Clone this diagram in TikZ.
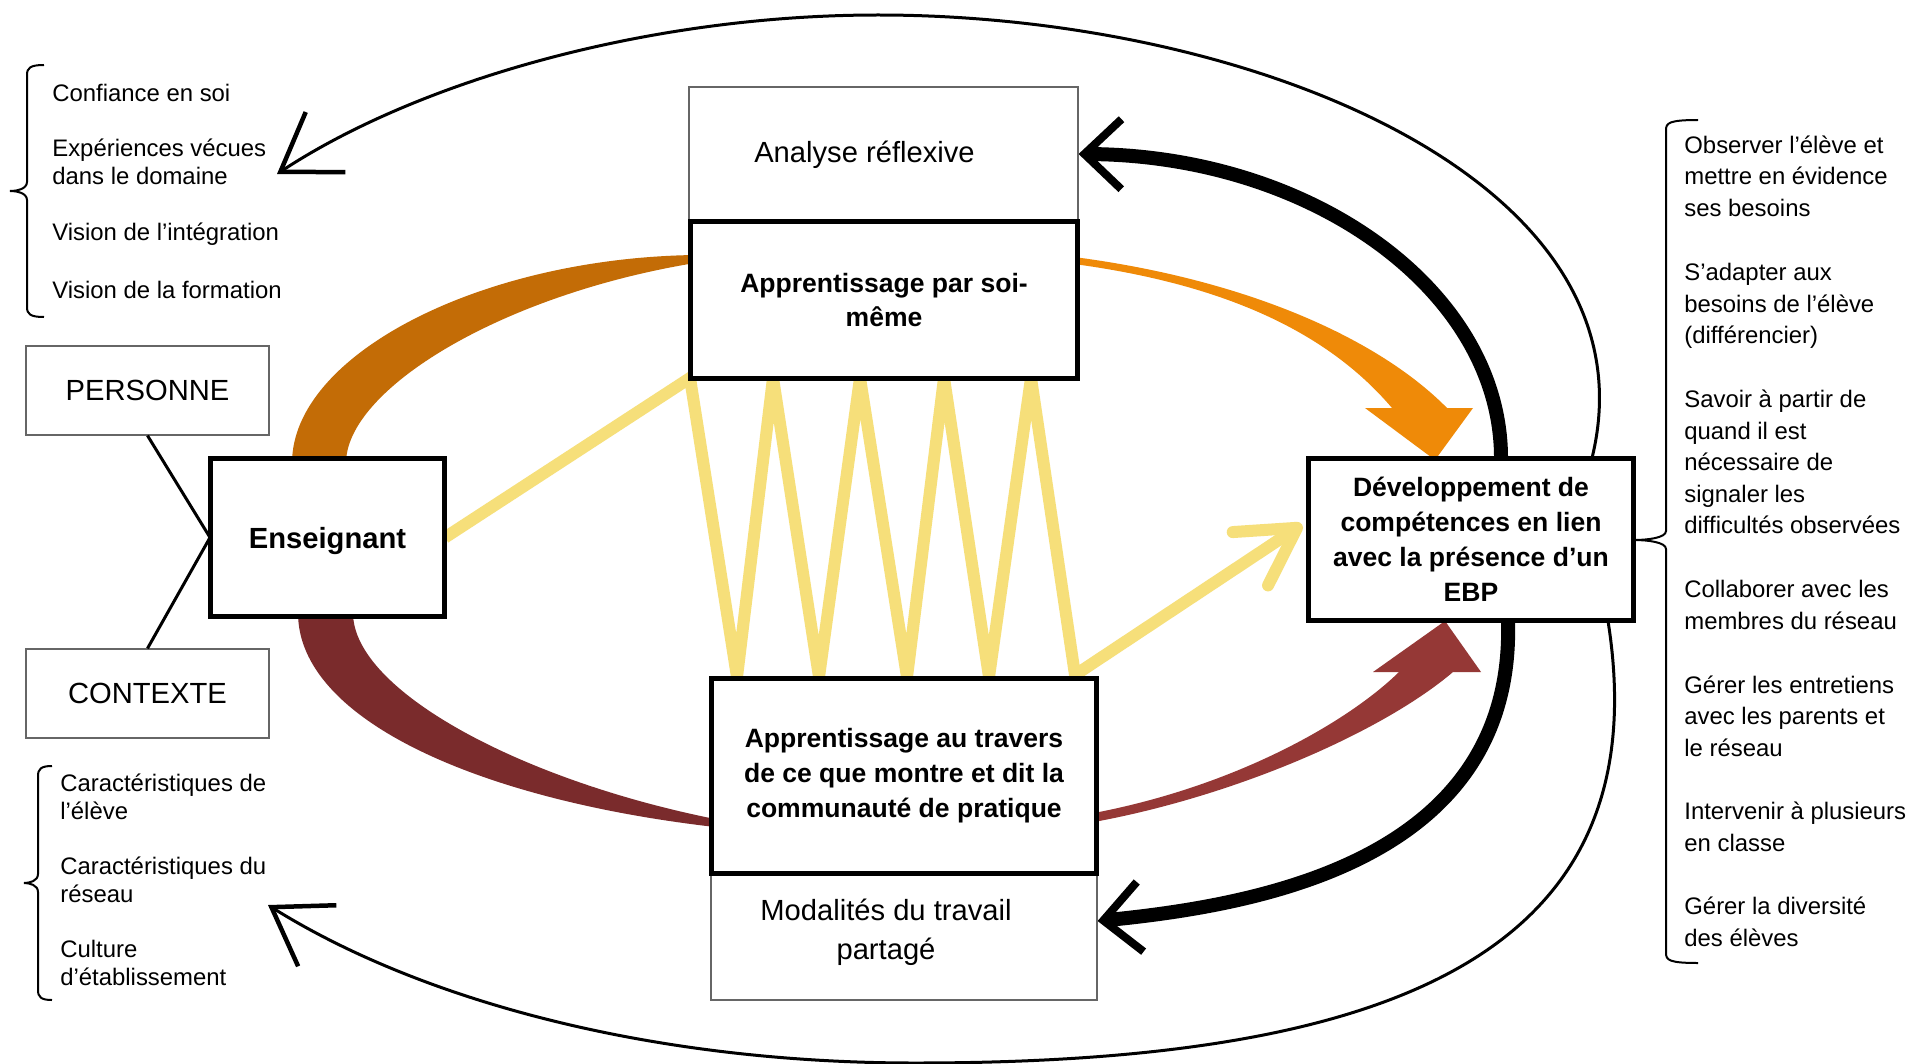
\documentclass[tikz,border=0pt]{standalone}
\usepackage{fontspec}
\setmainfont{Liberation Sans}
\usetikzlibrary{positioning, arrows.meta, calc, backgrounds}

\definecolor{jaune}{RGB}{246,223,122}
\definecolor{brun}{RGB}{195,108,6}
\definecolor{orangevif}{RGB}{239,138,8}
\definecolor{bordeaux}{RGB}{122,43,44}
\definecolor{brique}{RGB}{149,56,54}

% accolade: pointe x, demi-largeur, haut, milieu, bas
\newcommand{\accolade}[5]{%
\draw[accol] ({#1+2*#2},#3) .. controls ({#1+#2+3},#3) and ({#1+#2},{#3+3}) .. ({#1+#2},{#3+10})
  -- ({#1+#2},{#4-9}) .. controls ({#1+#2},{#4-2}) and ({#1+0.4*#2},#4) .. (#1,#4)
  .. controls ({#1+0.4*#2},#4) and ({#1+#2},{#4+2}) .. ({#1+#2},{#4+9})
  -- ({#1+#2},{#5-10}) .. controls ({#1+#2},{#5-3}) and ({#1+#2+3},#5) .. ({#1+2*#2},#5);}

\begin{document}
\begin{tikzpicture}[x=0.02cm, y=-0.02cm,
  thinbox/.style={draw=black!60, line width=0.024cm, fill=white, font=\fontsize{16.6}{22.2}\selectfont, align=center},
  thickbox/.style={draw, line width=0.1cm, fill=white, outer sep=0pt, font=\fontsize{15.1}{19.9}\selectfont\bfseries, align=center},
  petit/.style={font=\fontsize{13.6}{15.6}\selectfont, align=left, anchor=west, inner sep=0pt},
  liste/.style={font=\fontsize{13.6}{18}\selectfont, align=left, anchor=west, inner sep=0pt},
  boucle/.style={line width=0.06cm, -{Straight Barb[length=1.08cm, width=1.44cm, line width=0.09cm]}},
  retour/.style={line width=0.28cm, -{Straight Barb[length=0.74cm, width=1.4cm, line width=0.16cm]}},
  zigzag/.style={draw=jaune, line width=0.24cm, -{Straight Barb[length=1.12cm, width=1.28cm, round]}},
  trait/.style={line width=0.06cm},
  accol/.style={line width=0.04cm}]
\useasboundingbox (0,0) rectangle (1912,1064);

\node[thinbox, minimum width=7.78cm, minimum height=2.68cm] (analyse) at (883.5,154) {};
\node[font=\fontsize{16.6}{22.2}\selectfont] (analyse-txt) at ($(analyse.center)+(-19,1)$) {Analyse réflexive};
\node[thickbox, minimum width=7.76cm, minimum height=3.16cm] (soi) at (884,300) {Apprentissage par soi-\\même};
\node[thickbox, font=\fontsize{16.6}{22.2}\selectfont\bfseries, text depth=0pt, minimum width=4.7cm, minimum height=3.18cm] (ens) at (327.5,537.5) {Enseignant};
\node[thinbox, minimum width=4.86cm, minimum height=1.78cm] (personne) at (147.5,390.5) {PERSONNE};
\node[thinbox, minimum width=4.86cm, minimum height=1.78cm] (contexte) at (147.5,693.5) {CONTEXTE};
\node[thickbox, minimum width=6.52cm, minimum height=3.26cm] (ebp) at (1471,539.5) {Développement de\\compétences en lien\\avec la présence d’un\\EBP};
\node[thinbox, minimum width=7.72cm, minimum height=2.56cm] (modalites) at (904,936) {};
\node[font=\fontsize{16.6}{22.2}\selectfont, align=center] (modalites-txt) at ($(modalites.center)+(-18,-4)$) {Modalités du travail\\partagé};
\node[thickbox, minimum width=7.72cm, minimum height=3.9cm] (travers) at (904,776) {Apprentissage au travers\\de ce que montre et dit la\\communauté de pratique};

\draw[trait] (personne.south) -- (ens.west) -- (contexte.north);

\node[petit] (confiance) at (52,93) {Confiance en soi};
\node[petit] (experiences) at (52,162) {Expériences vécues\\dans le domaine};
\node[petit] (vision-integ) at (52,234) {Vision de l’intégration};
\node[petit] (vision-form) at (52,290) {Vision de la formation};
\node[petit] (carac-eleve) at (60,797) {Caractéristiques de\\l’élève};
\node[petit] (carac-reseau) at (60,880) {Caractéristiques du\\réseau};
\node[petit] (culture) at (60,963) {Culture\\d’établissement};

\node[liste] (observer) at (1684,176) {Observer l’élève et\\mettre en évidence\\ses besoins};
\node[liste] (adapter) at (1684,306) {S’adapter aux\\besoins de l’élève\\(différencier)};
\node[liste] (savoir) at (1684,462) {Savoir à partir de\\quand il est\\nécessaire de\\signaler les\\difficultés observées};
\node[liste] (collaborer) at (1684,605) {Collaborer avec les\\membres du réseau};
\node[liste] (entretiens) at (1684,716) {Gérer les entretiens\\avec les parents et\\le réseau};
\node[liste] (intervenir) at (1684,827) {Intervenir à plusieurs\\en classe};
\node[liste] (diversite) at (1684,922) {Gérer la diversité\\des élèves};

\accolade{10}{17}{65}{191}{317}
\accolade{24}{14}{766}{883}{1000}
\accolade{1634}{32}{120}{540}{963}

\coordinate (pointe-haut) at (277,174);
\coordinate (pointe-bas) at (268,905);

\begin{scope}[on background layer]
\fill[white] (0,0) rectangle (1912,1064);
\draw[boucle] ($(ebp.north)+(121,0)$) .. controls (1660,180) and (1250,15) .. (878,15) .. controls (650,15) and (420,80) .. (pointe-haut);
\draw[boucle] ($(ebp.south)+(137,0)$) .. controls (1660,950) and (1400,1063) .. (915,1063) .. controls (650,1063) and (420,1000) .. (pointe-bas);
\draw[retour] ($(ebp.north)+(30,0)$) .. controls (1501,291) and (1312,155) .. (analyse.east);
\draw[retour] ($(ebp.south)+(37,0)$) .. controls (1515,860) and (1260,905) .. ($(modalites.east)+(0,-15)$);
\fill[brun] ($(ens.north west)+(82,5)$) .. controls (292,355) and (480,258) .. ($(soi.west)+(5,-45)$)
  -- ($(soi.west)+(5,-37)$) .. controls (500,295) and (346,390) .. ($(ens.north west)+(136,5)$) -- cycle;
\fill[bordeaux] ($(ens.south west)+(88,-4)$) .. controls (298,720) and (480,800) .. ($(travers.west)+(4,51)$)
  -- ($(travers.west)+(4,43)$) .. controls (520,780) and (353,690) .. ($(ens.south west)+(143,-4)$) -- cycle;
\fill[orangevif] ($(soi.east)+(-4,-43)$) .. controls (1250,280) and (1380,340) .. (1447,408) -- (1473,408)
  -- ($(ebp.north)+(-36,2)$) -- (1365,408) -- (1392,408) .. controls (1330,335) and (1230,285) .. ($(soi.east)+(-4,-36)$) -- cycle;
\fill[brique] ($(travers.east)+(-3,46)$) .. controls (1240,795) and (1385,730) .. (1453,672) -- (1481,672)
  -- ($(ebp.south)+(-26,0)$) -- (1373,672) -- (1399,672) .. controls (1350,720) and (1240,785) .. ($(travers.east)+(-3,37)$) -- cycle;
\draw[zigzag] (ens.east) -- (690,378) -- (737,677) -- (773,378) -- (819,677) -- (860,378) -- (907,677)
  -- (944,378) -- (989,677) -- (1031,378) -- (1075,675) -- ($(ebp.west)+(-6,-15)$);
\end{scope}
\end{tikzpicture}
\end{document}
